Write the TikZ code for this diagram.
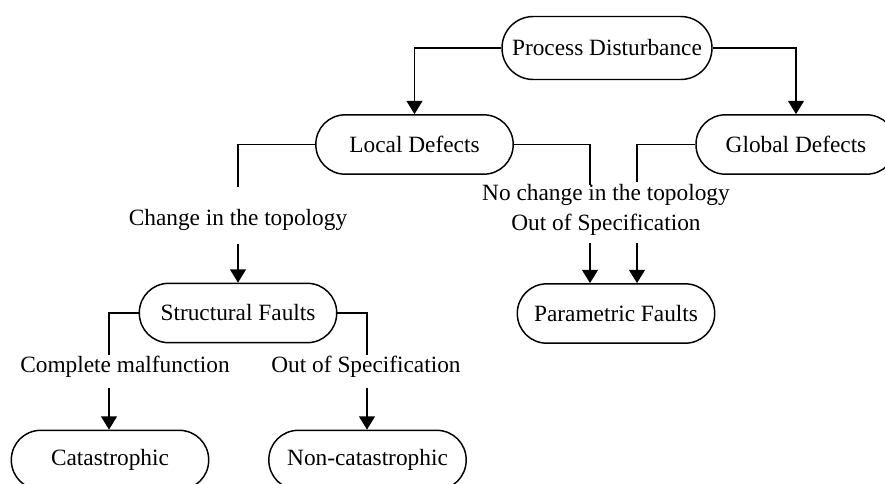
\documentclass[tikz,border=0pt]{standalone}
\usepackage{fontspec}
\setmainfont{Liberation Serif}
\usetikzlibrary{arrows.meta}
\begin{document}
\begin{tikzpicture}[x=0.75pt,y=-0.75pt,
  txt/.style={font=\fontsize{17.5}{22.5}\selectfont},
  stadium/.style={draw, line width=1.1pt, rectangle, rounded corners=22pt,
    minimum width=148pt, minimum height=44.5pt, inner sep=0pt, txt},
  lab/.style={inner sep=0pt, align=center, txt},
  link/.style={line width=1.1pt},
  arr/.style={link, -{Triangle[width=12pt,length=10pt]}}]
\useasboundingbox (0,0) rectangle (885,483);
\clip (0,0) rectangle (885,483);

% boxes
\node[stadium, minimum width=157.5pt, minimum height=47.25pt, rounded corners=23.5pt] (pd) at (607,48) {Process Disturbance};
\node[stadium] (ld) at (414.5,144.5) {Local Defects};
\node[stadium, minimum width=150pt] (gd) at (796,144.5) {Global Defects};
\node[stadium] (sf) at (238,313) {Structural Faults};
\node[stadium] (pf) at (616,313.5) {Parametric Faults};
\node[stadium] (cat) at (110,460) {Catastrophic};
\node[stadium] (ncat) at (367.5,460) {Non-catastrophic};

% top level split
\draw[arr] (pd.west) -| (ld.north);
\draw[arr] (pd.east) -| (gd.north);

% local defects -> structural faults
\coordinate (ldl) at (238,187);
\draw[link] (ld.west) -| (ldl);
\node[lab] (tchg) at (238,220) {Change in the topology};
\coordinate (sfin) at (238,244);
\draw[arr] (sfin) -- (sf.north);

% local / global defects -> parametric faults
\coordinate (ldr) at (590,185);
\draw[link] (ld.east) -| (ldr);
\coordinate (gdl) at (637,182);
\draw[link] (gd.west) -| (gdl);
\node[lab] (tnochg) at (606,210) {No change in the topology\\Out of Specification};
\coordinate (pfa) at (590,243);
\coordinate (pfb) at (637,243);
\draw[arr] (pfa) -- (pfa |- pf.north);
\draw[arr] (pfb) -- (pfb |- pf.north);

% structural faults -> catastrophic / non-catastrophic
\coordinate (sfl) at (109,355);
\draw[link] (sf.west) -| (sfl);
\node[lab] (tcm) at (125,367) {Complete malfunction};
\coordinate (cata) at (109,388);
\draw[arr] (cata) -- (cata |- cat.north);

\coordinate (sfr) at (367,355);
\draw[link] (sf.east) -| (sfr);
\node[lab] (toos) at (366,367) {Out of Specification};
\coordinate (ncata) at (367,388);
\draw[arr] (ncata) -- (ncata |- ncat.north);
\end{tikzpicture}
\end{document}
